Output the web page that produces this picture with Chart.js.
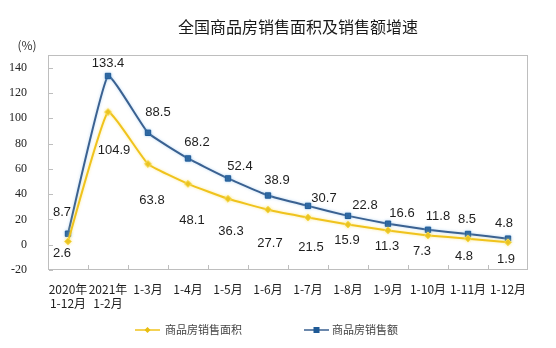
<!DOCTYPE html>
<html>
<head>
<meta charset="utf-8">
<script src="https://cdn.jsdelivr.net/npm/chart.js@4"></script>
<style>
  html, body { margin: 0; padding: 0; background: #fff; }
  #wrap { width: 556px; height: 348px; }
</style>
</head>
<body>
<div id="wrap"><canvas id="c" width="556" height="348"></canvas></div>
<script>
// ---- data ----
const categories = [['2020年', '1-12月'], ['2021年', '1-2月'], '1-3月', '1-4月', '1-5月', '1-6月',
  '1-7月', '1-8月', '1-9月', '1-10月', '1-11月', '1-12月'];
const areaGrowth = [2.6, 104.9, 63.8, 48.1, 36.3, 27.7, 21.5, 15.9, 11.3, 7.3, 4.8, 1.9];
const salesGrowth = [8.7, 133.4, 88.5, 68.2, 52.4, 38.9, 30.7, 22.8, 16.6, 11.8, 8.5, 4.8];
const yTicks = [-20, 0, 20, 40, 60, 80, 100, 120, 140];
const seriesNames = ['商品房销售面积', '商品房销售额'];
const titleText = '全国商品房销售面积及销售额增速';
const unitText = '(%)';

// value-label nudges in px, relative to each point
const salesLabelShift = [[-6, -21], [0, -13], [10, -20], [9, -16], [12, -12], [9, -15], [16, -7], [17, -10], [14, -10], [10, -13], [-1, -15], [-4, -15]];
const areaLabelShift = [[-6, 12], [6, 38], [4, 36], [4, 37], [3, 33], [2, 34], [3, 30], [-1, 16], [-1, 16], [-6, 16], [-4, 18], [-2, 17]];

const YELLOW = '#F0C31C';
const BLUE = '#3A6191';
const CJK = '"Noto Sans CJK SC", "Noto Sans", sans-serif';

// plot frame and inner tick marks
const framePlugin = {
  id: 'frame',
  beforeDatasetsDraw(chart) {
    const { ctx, chartArea: a } = chart;
    const y = chart.scales.y;
    ctx.save();
    ctx.strokeStyle = '#BEBEBE';
    ctx.lineWidth = 1;
    ctx.strokeRect(Math.round(a.left) + 0.5, Math.round(a.top) + 0.5,
      Math.round(a.right - a.left) - 1, Math.round(a.bottom - a.top) - 1);
    ctx.beginPath();
    yTicks.forEach(v => {
      const py = Math.round(y.getPixelForValue(v)) + 0.5;
      ctx.moveTo(a.left + 1, py); ctx.lineTo(a.left + 5, py);
    });
    const step = (a.right - a.left) / categories.length;
    for (let i = 1; i < categories.length; i++) {
      const px = Math.round(a.left + step * i) + 0.5;
      ctx.moveTo(px, a.bottom - 1); ctx.lineTo(px, a.bottom - 5);
    }
    ctx.stroke();
    ctx.restore();
  }
};

// soft halo around each line
const glowPlugin = {
  id: 'glow',
  beforeDatasetDraw(chart, args) {
    const ctx = chart.ctx;
    ctx.save();
    ctx.shadowBlur = 3;
    ctx.shadowColor = args.index === 0 ? 'rgba(250,225,110,0.7)' : 'rgba(140,190,235,0.6)';
  },
  afterDatasetDraw(chart) { chart.ctx.restore(); }
};

// value labels next to the points
const valueLabelPlugin = {
  id: 'valueLabels',
  afterDatasetsDraw(chart) {
    const ctx = chart.ctx;
    ctx.save();
    ctx.font = '13px "Liberation Sans", Arial, sans-serif';
    ctx.fillStyle = '#1e1e1e';
    ctx.textAlign = 'center';
    ctx.textBaseline = 'middle';
    const sets = [[0, areaGrowth, areaLabelShift], [1, salesGrowth, salesLabelShift]];
    sets.forEach(([di, values, shift]) => {
      chart.getDatasetMeta(di).data.forEach((pt, i) => {
        ctx.fillText(values[i].toFixed(1), pt.x + shift[i][0], pt.y + shift[i][1]);
      });
    });
    ctx.restore();
  }
};

// title, unit and legend
const decorPlugin = {
  id: 'decor',
  afterDraw(chart) {
    const ctx = chart.ctx;
    ctx.save();
    ctx.fillStyle = '#1a1a1a';
    ctx.textAlign = 'center';
    ctx.textBaseline = 'middle';
    ctx.font = '16px ' + CJK;
    ctx.fillText(titleText, 298, 27);
    ctx.font = '12px ' + CJK;
    ctx.fillStyle = '#333';
    ctx.fillText(unitText, 27, 45);

    // legend
    const ly = 330;
    ctx.lineWidth = 1.5;
    ctx.strokeStyle = YELLOW;
    ctx.beginPath(); ctx.moveTo(135, ly); ctx.lineTo(160, ly); ctx.stroke();
    ctx.fillStyle = '#E8BE10';
    ctx.beginPath();
    ctx.moveTo(147.5, ly - 3); ctx.lineTo(150.5, ly); ctx.lineTo(147.5, ly + 3); ctx.lineTo(144.5, ly);
    ctx.closePath(); ctx.fill();

    ctx.strokeStyle = BLUE;
    ctx.beginPath(); ctx.moveTo(304, ly); ctx.lineTo(329, ly); ctx.stroke();
    ctx.fillStyle = '#1F5A96';
    ctx.fillRect(313.5, ly - 3, 6, 6);

    ctx.fillStyle = '#444';
    ctx.textAlign = 'left';
    ctx.font = '11px ' + CJK;
    ctx.fillText(seriesNames[0], 165, ly);
    ctx.fillText(seriesNames[1], 332, ly);
    ctx.restore();
  }
};

new Chart(document.getElementById('c'), {
  type: 'line',
  data: {
    labels: categories,
    datasets: [
      {
        label: seriesNames[0], data: areaGrowth,
        borderColor: YELLOW, borderWidth: 2, tension: 0.12,
        pointStyle: 'rectRot', pointRadius: 3.4,
        pointBackgroundColor: '#E9C016', pointBorderColor: '#F6D84C', pointBorderWidth: 1
      },
      {
        label: seriesNames[1], data: salesGrowth,
        borderColor: BLUE, borderWidth: 2, tension: 0.12,
        pointStyle: 'rect', pointRadius: 3.8,
        pointBackgroundColor: '#1F5A96', pointBorderColor: '#1F5A96', pointBorderWidth: 1
      }
    ]
  },
  options: {
    responsive: false,
    animation: false,
    devicePixelRatio: 1,
    layout: { padding: { left: 0, right: 28, top: 55, bottom: 28 } },
    plugins: { legend: { display: false }, title: { display: false }, tooltip: { enabled: false } },
    scales: {
      x: {
        offset: true,
        grid: { display: false },
        border: { display: false },
        ticks: {
          padding: 4, color: '#1e1e1e', autoSkip: false, maxRotation: 0,
          font: { family: CJK, size: 12, lineHeight: 1.2 }
        },
        afterFit(s) { s.height = 50; }
      },
      y: {
        min: -20, max: 150,
        afterBuildTicks(s) { s.ticks = yTicks.map(v => ({ value: v })); },
        grid: { display: false },
        border: { display: false },
        ticks: {
          padding: 13, color: '#222',
          font: { family: '"Liberation Serif", "DejaVu Serif", serif', size: 12 }
        },
        afterFit(s) { s.width = 48; }
      }
    }
  },
  plugins: [framePlugin, glowPlugin, valueLabelPlugin, decorPlugin]
});
</script>
</body>
</html>
